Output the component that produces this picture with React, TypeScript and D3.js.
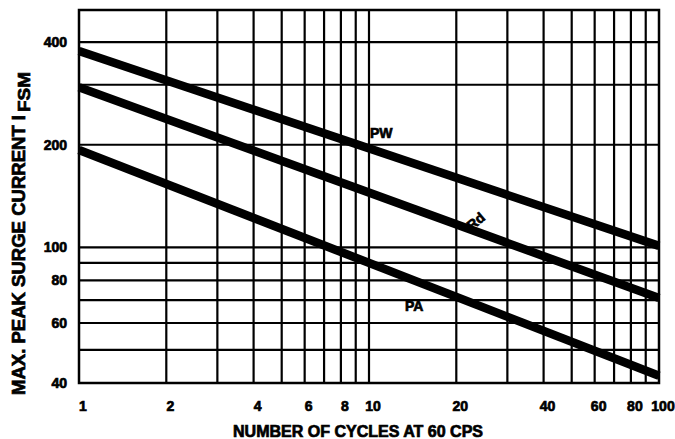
import React from "react";
import * as d3 from "d3";

const cycles = [1, 100];
const pwValues = [377, 101];
const rdValues = [295, 71];
const paValues = [193, 42];

const xTickLabels = [1, 2, 4, 6, 8, 10, 20, 40, 60, 80, 100];
const yTickLabels = [40, 60, 80, 100, 200, 400];
const xGridValues = [2, 3, 4, 5, 6, 7, 8, 9, 10, 20, 30, 40, 50, 60, 70, 80, 90];
const yGridValues = [50, 60, 70, 80, 90, 100, 200, 300, 400];

const seriesLabels = ["PW", "Rd", "PA"];

const W = 675;
const H = 439;
const left = 79;
const right = 659;
const top = 10;
const bottom = 383;

const FONT = "'Liberation Sans', Arial, Helvetica, sans-serif";

export default function App() {
  const x = d3.scaleLog().domain([1, 100]).range([left, right]);
  const y = d3.scaleLog().domain([40, 497]).range([bottom, top]);

  const line = d3
    .line<[number, number]>()
    .x((d) => x(d[0]))
    .y((d) => y(d[1]));

  const series = [pwValues, rdValues, paValues].map((vals) =>
    cycles.map((c, i) => [c, vals[i]] as [number, number])
  );

  const txt = {
    fontFamily: FONT,
    fontWeight: 700 as const,
    fill: "#000",
    stroke: "#000",
    strokeWidth: 0.7,
  };

  return (
    <svg
      width={W}
      height={H}
      viewBox={`0 0 ${W} ${H}`}
      style={{ position: "absolute", left: 0, top: 0, background: "#fff" }}
    >
      <rect x={0} y={0} width={W} height={H} fill="#fff" />
      {/* grid */}
      {xGridValues.map((v) => (
        <line
          key={"gx" + v}
          x1={x(v)}
          x2={x(v)}
          y1={top}
          y2={bottom}
          stroke="#000"
          strokeWidth={2.2}
        />
      ))}
      {yGridValues.map((v) => (
        <line
          key={"gy" + v}
          x1={left}
          x2={right}
          y1={y(v)}
          y2={y(v)}
          stroke="#000"
          strokeWidth={2.2}
        />
      ))}
      <rect
        x={left}
        y={top}
        width={right - left}
        height={bottom - top}
        fill="none"
        stroke="#000"
        strokeWidth={2.5}
      />
      {/* series lines */}
      {series.map((s, i) => (
        <path
          key={"s" + i}
          d={line(s) || ""}
          fill="none"
          stroke="#000"
          strokeWidth={8.5}
          strokeLinecap="butt"
        />
      ))}
      {/* series labels */}
      <text x={x(10) + 1} y={138} fontSize={14} {...txt}>
        {seriesLabels[0]}
      </text>
      <text
        transform={`translate(479,225) rotate(-40)`}
        fontSize={14}
        textAnchor="middle"
        {...txt}
      >
        {seriesLabels[1]}
      </text>
      <text x={405} y={311} fontSize={14} {...txt}>
        {seriesLabels[2]}
      </text>
      {/* y tick labels */}
      {yTickLabels.map((v) => (
        <text
          key={"yt" + v}
          x={67}
          y={y(v)}
          dy="0.36em"
          textAnchor="end"
          fontSize={14}
          {...txt}
        >
          {v}
        </text>
      ))}
      {/* x tick labels */}
      {xTickLabels.map((v) => (
        <text
          key={"xt" + v}
          x={x(v) + 4}
          y={411}
          textAnchor="middle"
          fontSize={14}
          {...txt}
        >
          {v}
        </text>
      ))}
      {/* axis titles */}
      <text
        x={233}
        y={437}
        fontSize={16}
        textLength={250}
        lengthAdjust="spacingAndGlyphs"
        {...txt}
      >
        NUMBER OF CYCLES AT 60 CPS
      </text>
      <text
        transform="translate(25,395) rotate(-90)"
        fontSize={17.5}
        textLength={280}
        lengthAdjust="spacingAndGlyphs"
        {...txt}
      >
        MAX. PEAK SURGE CURRENT I
      </text>
      <text
        transform="translate(30,112) rotate(-90)"
        fontSize={17}
        textLength={40}
        lengthAdjust="spacingAndGlyphs"
        {...txt}
      >
        FSM
      </text>
    </svg>
  );
}
